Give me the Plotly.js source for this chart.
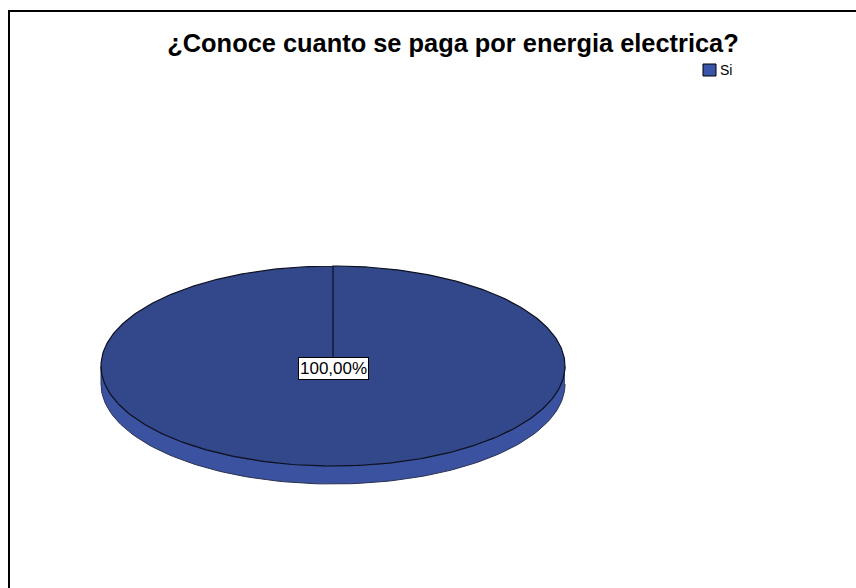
<!DOCTYPE html>
<html>
<head>
<meta charset="utf-8">
<script src="https://cdn.plot.ly/plotly-3.0.1.min.js"></script>
<style>html,body{margin:0;padding:0;background:#fff}#chart{width:856px;height:588px}</style>
</head>
<body>
<div id="chart"></div>
<script>
// ---- data ----
var categories = ['Si'];
var values = [100];
var chartTitle = '¿Conoce cuanto se paga por energia electrica?';

// ---- geometry / style (layout only) ----
var W = 856, H = 588;
var cx = 333, cy = 366, rx = 232, ry = 100, depth = 18;
var topColors = ['rgb(50,72,138)'];
var sideColors = ['rgb(58,82,160)'];
var legendColors = ['rgb(58,84,168)'];
var FONT = 'Liberation Sans, Arial, sans-serif';

var total = values.reduce(function(a, b){ return a + b; }, 0);
function pt(deg, dy) {
  var t = deg * Math.PI / 180;
  return [cx + rx * Math.sin(t), cy - ry * Math.cos(t) + (dy || 0)];
}

var traces = [];
var annotations = [];
var shapes = [{type: 'rect', xref: 'x', yref: 'y', x0: 9, y0: 11, x1: W + 10, y1: H + 10,
  line: {color: '#000', width: 2}, fillcolor: 'rgba(0,0,0,0)', layer: 'below'}];
var start = 0;
values.forEach(function(v, i) {
  var sweep = 360 * v / total;
  var end = start + sweep;
  // side (front part, angles 90..270)
  var a0 = Math.max(start, 90), a1 = Math.min(end, 270);
  if (a1 > a0) {
    var sx = [], sy = [], k, p;
    for (k = 0; k <= 120; k++) { p = pt(a0 + (a1 - a0) * k / 120, 0); sx.push(p[0]); sy.push(p[1]); }
    for (k = 120; k >= 0; k--) { p = pt(a0 + (a1 - a0) * k / 120, depth); sx.push(p[0]); sy.push(p[1]); }
    traces.push({x: sx, y: sy, type: 'scatter', mode: 'lines', fill: 'toself',
      fillcolor: sideColors[i], line: {color: '#2a3150', width: 1}, showlegend: false, hoverinfo: 'skip'});
  }
  // top face
  var tx = [cx], ty = [cy];
  for (var k2 = 0; k2 <= 360; k2++) { var q = pt(start + sweep * k2 / 360, 0); tx.push(q[0]); ty.push(q[1]); }
  tx.push(cx); ty.push(cy);
  traces.push({x: tx, y: ty, type: 'scatter', mode: 'lines', fill: 'toself',
    fillcolor: topColors[i], line: {color: '#0d1020', width: 1.2}, showlegend: false, hoverinfo: 'skip'});
  // legend entry (manual)
  var ly = 70 + i * 18;
  shapes.push({type: 'rect', xref: 'x', yref: 'y', x0: 703, x1: 716, y0: ly - 6, y1: ly + 6,
    fillcolor: legendColors[i], line: {color: '#000', width: 1}});
  annotations.push({x: 718, y: ly, xref: 'x', yref: 'y', xanchor: 'left', yanchor: 'middle', showarrow: false,
    text: categories[i], font: {family: FONT, size: 14, color: '#000'}});
  // label
  var mid = start + sweep / 2;
  var lp = sweep >= 359.99 ? [cx, cy] : pt(mid, 0).map(function(c, j){ return j === 0 ? cx + (c - cx) * 0.6 : cy + (c - cy) * 0.6; });
  annotations.push({x: lp[0], y: lp[1] + 2, xref: 'x', yref: 'y', showarrow: false,
    text: (100 * v / total).toFixed(2).replace('.', ',') + '%',
    font: {family: FONT, size: 17, color: '#000'},
    bgcolor: '#fff', bordercolor: '#000', borderwidth: 1, borderpad: 1});
  start = end;
});

var layout = {
  width: W, height: H,
  margin: {l: 0, r: 0, t: 0, b: 0},
  paper_bgcolor: '#fff', plot_bgcolor: '#fff',
  xaxis: {range: [0, W], visible: false, fixedrange: true},
  yaxis: {range: [H, 0], visible: false, fixedrange: true},
  title: {text: '<b>' + chartTitle + '</b>', x: 453 / W, xanchor: 'center', y: 1 - 43 / H, yanchor: 'middle',
    font: {family: FONT, size: 25.4, color: '#000'}},
  showlegend: false,
  annotations: annotations,
  shapes: shapes
};

Plotly.newPlot('chart', traces, layout, {displayModeBar: false, staticPlot: true});
</script>
</body>
</html>
